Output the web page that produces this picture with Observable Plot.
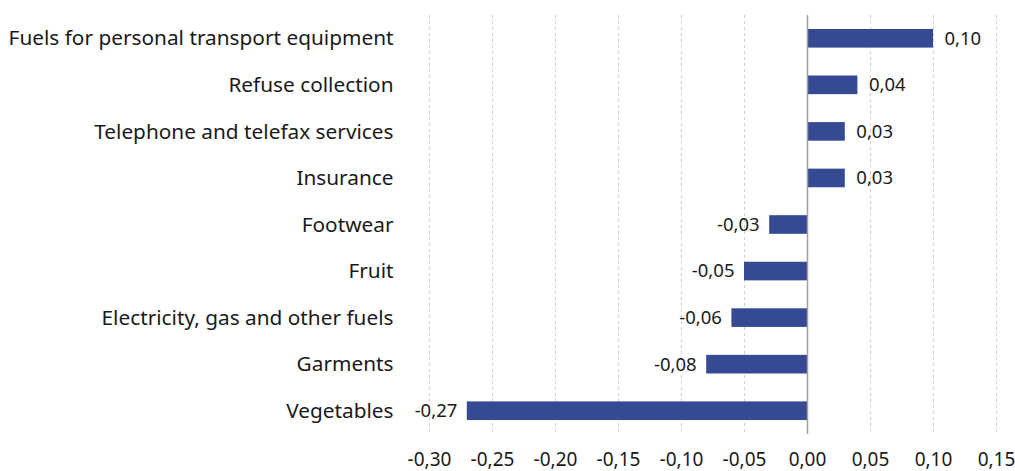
<!DOCTYPE html>
<html><head><meta charset="utf-8">
<script src="https://cdn.jsdelivr.net/npm/d3@7"></script>
<script src="https://cdn.jsdelivr.net/npm/@observablehq/plot@0.6"></script>
<style>body{margin:0;background:#fff}</style>
</head><body><div id="chart"></div>
<script>
const categories = [
  "Fuels for personal transport equipment",
  "Refuse collection",
  "Telephone and telefax services",
  "Insurance",
  "Footwear",
  "Fruit",
  "Electricity, gas and other fuels",
  "Garments",
  "Vegetables"
];
const values = [0.10, 0.04, 0.03, 0.03, -0.03, -0.05, -0.06, -0.08, -0.27];
const xTicks = [-0.30, -0.25, -0.20, -0.15, -0.10, -0.05, 0.00, 0.05, 0.10, 0.15];

const data = categories.map((c, i) => ({category: c, value: values[i]}));
const fmt = v => v.toFixed(2).replace(".", ",");
const font = "'Noto Sans', sans-serif";

const chart = Plot.plot({
  width: 1015,
  height: 471,
  marginLeft: 429,
  marginRight: 19,
  marginTop: 15,
  marginBottom: 37,
  style: {fontFamily: font, color: "#1a1a1a", background: "#fff"},
  x: {domain: [-0.30, 0.15]},
  y: {domain: categories, paddingInner: 0.6, paddingOuter: 0.3, round: false},
  marks: [
    Plot.gridX(xTicks, {stroke: "#cfcfcf", strokeOpacity: 1, strokeDasharray: "3,3"}),
    Plot.barX(data, {x: "value", y: "category", fill: "#354a93"}),
    Plot.ruleX([0], {stroke: "#a0a0a0", strokeWidth: 1.5}),
    Plot.text(data.filter(d => d.value >= 0), {x: "value", y: "category", text: d => fmt(d.value), textAnchor: "start", dx: 11, fontSize: 18.5, fill: "#1a1a1a"}),
    Plot.text(data.filter(d => d.value < 0), {x: "value", y: "category", text: d => fmt(d.value), textAnchor: "end", dx: -10, fontSize: 18.5, fill: "#1a1a1a"}),
    Plot.axisX({ticks: xTicks, tickFormat: fmt, tickSize: 0, tickPadding: 18, fontSize: 19, label: null, fill: "#1a1a1a"}),
    Plot.axisY({tickSize: 0, tickPadding: 36, fontSize: 20.8, label: null, fill: "#1a1a1a"})
  ]
});
document.getElementById("chart").appendChild(chart);
</script>
</body></html>
